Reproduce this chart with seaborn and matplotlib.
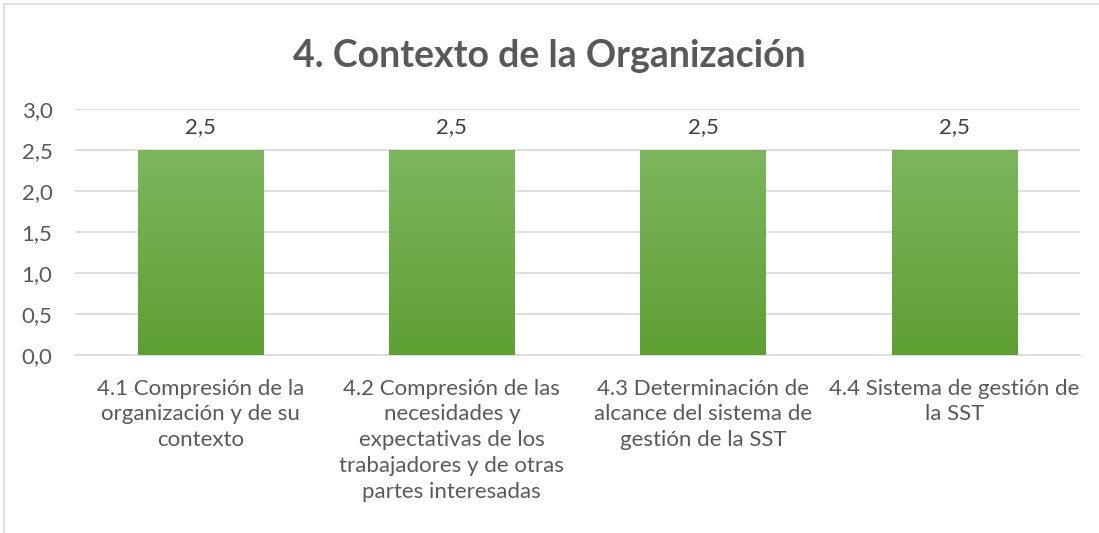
import matplotlib
matplotlib.use("Agg")
import matplotlib.pyplot as plt
from matplotlib.colors import LinearSegmentedColormap
from matplotlib.lines import Line2D
import numpy as np
import pandas as pd
import seaborn as sns

categories = [
    "4.1 Compresión de la\norganización y de su\ncontexto",
    "4.2 Compresión de las\nnecesidades y\nexpectativas de los\ntrabajadores y de otras\npartes interesadas",
    "4.3 Determinación de\nalcance del sistema de\ngestión de la SST",
    "4.4 Sistema de gestión de\nla SST",
]
values = [2.5, 2.5, 2.5, 2.5]
value_labels = ["2,5", "2,5", "2,5", "2,5"]
yticks = [0.0, 0.5, 1.0, 1.5, 2.0, 2.5, 3.0]
ytick_labels = ["0,0", "0,5", "1,0", "1,5", "2,0", "2,5", "3,0"]
title = "4. Contexto de la Organización"

sns.set_theme(style="white")
plt.rcParams["font.family"] = ["Lato", "DejaVu Sans"]

df = pd.DataFrame({"cat": categories, "val": values})

fig = plt.figure(figsize=(10.99, 5.33), dpi=100)
ax = fig.add_axes([0.068, 0.334, 0.915, 0.461])

sns.barplot(data=df, x="cat", y="val", ax=ax, color="#6aab45", width=0.5,
            saturation=1, zorder=3)

# gradient fill on each bar, light green top -> darker green bottom
cmap = LinearSegmentedColormap.from_list("g", ["#5e9f33", "#7db65e"])
grad = np.linspace(0, 1, 256).reshape(-1, 1)
for p in ax.patches:
    x0, y0 = p.get_x(), p.get_y()
    w, h = p.get_width(), p.get_height()
    im = ax.imshow(grad, extent=(x0, x0 + w, y0, y0 + h), origin="lower",
                   cmap=cmap, aspect="auto", zorder=4)
    im.set_clip_path(p)
    p.set_edgecolor("none")

ax.set_xlim(-0.5, len(categories) - 0.5)
ax.set_ylim(0, 3.0)
ax.set_yticks(yticks)
ax.set_yticklabels(ytick_labels)
ax.yaxis.grid(True, color="#d9d9d9", linewidth=1.2, zorder=0)
ax.set_axisbelow(True)
for s in ["top", "right", "left"]:
    ax.spines[s].set_visible(False)
ax.spines["bottom"].set_color("#d9d9d9")
ax.spines["bottom"].set_linewidth(1.2)
ax.tick_params(axis="both", length=0, labelsize=16, labelcolor="#595959")
ax.tick_params(axis="y", pad=16)
ax.tick_params(axis="x", pad=17)
ax.set_xlabel("")
ax.set_ylabel("")
for lbl in ax.get_xticklabels():
    lbl.set_horizontalalignment("center")
    lbl.set_linespacing(1.36)

for i, (v, t) in enumerate(zip(values, value_labels)):
    ax.annotate(t, (i, v), xytext=(0, 12.5), textcoords="offset points",
                ha="center", va="baseline", fontsize=16, color="#404040")

fig.text(0.5, 1 - 67 / 533, title, ha="center", va="baseline", fontsize=27,
         fontweight="bold", color="#595959")

# chart frame
fig.add_artist(Line2D([0.004, 0.004], [0.0, 0.993], transform=fig.transFigure,
                      color="#d9d9d9", linewidth=1.2))
fig.add_artist(Line2D([0.004, 1.0], [0.993, 0.993], transform=fig.transFigure,
                      color="#d9d9d9", linewidth=1.2))

fig.savefig("out.png", dpi=100, facecolor="white")
